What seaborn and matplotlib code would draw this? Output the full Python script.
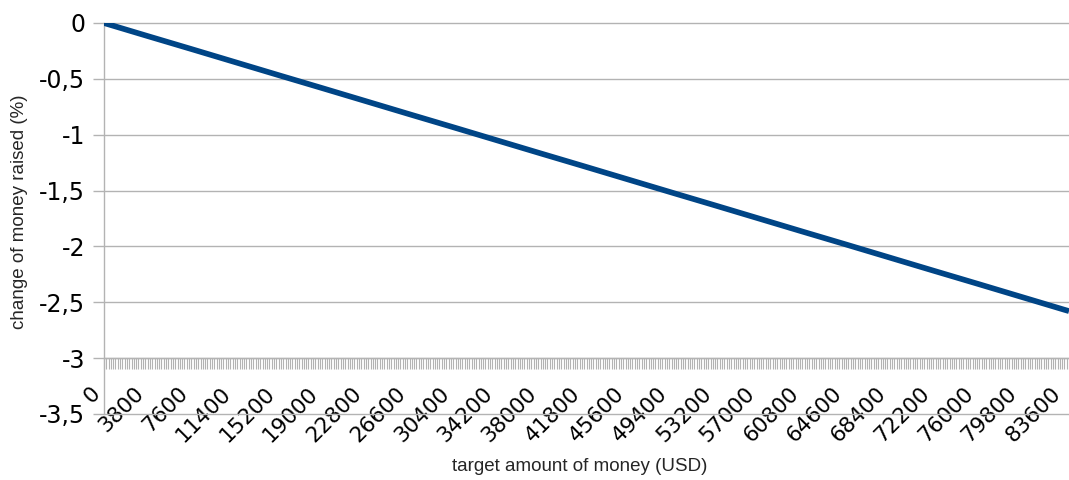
import numpy as np
import pandas as pd
import matplotlib
matplotlib.use("Agg")
import matplotlib.pyplot as plt
from matplotlib.ticker import FixedLocator
import seaborn as sns

# ---- data ----
target_usd = [0, 3800, 7600, 11400, 15200, 19000, 22800, 26600, 30400, 34200,
              38000, 41800, 45600, 49400, 53200, 57000, 60800, 64600, 68400,
              72200, 76000, 79800, 83600, 84000]
change_pct = [0.0, -0.117, -0.233, -0.350, -0.467, -0.583, -0.700, -0.817,
              -0.933, -1.050, -1.167, -1.283, -1.400, -1.517, -1.633, -1.750,
              -1.867, -1.983, -2.100, -2.217, -2.333, -2.450, -2.567, -2.579]
x_tick_values = [0, 3800, 7600, 11400, 15200, 19000, 22800, 26600, 30400, 34200,
                 38000, 41800, 45600, 49400, 53200, 57000, 60800, 64600, 68400,
                 72200, 76000, 79800, 83600]
x_tick_labels = [str(v) for v in x_tick_values]
y_tick_values = [0, -0.5, -1, -1.5, -2, -2.5, -3, -3.5]
y_tick_labels = ["0", "-0,5", "-1", "-1,5", "-2", "-2,5", "-3", "-3,5"]
x_label = "target amount of money (USD)"
y_label = "change of money raised (%)"

sns.set_style("white")
plt.rcParams["font.family"] = ["Liberation Sans", "DejaVu Sans"]

W, H = 1069, 480
fig = plt.figure(figsize=(W / 100, H / 100), dpi=100)
left, right, top, bottom = 104, 1069, 23, 414
ax = fig.add_axes([left / W, 1 - bottom / H, (right - left) / W, (bottom - top) / H])

grid_c = "#b3b3b3"
df = pd.DataFrame({"x": target_usd, "y": change_pct})
sns.lineplot(data=df, x="x", y="y", ax=ax, color="#004586", linewidth=4.1,
             solid_capstyle="butt", zorder=5)

ax.set_xlim(0, 84000)
ax.set_ylim(-3.5, 0)

# horizontal gridlines
for yv in y_tick_values:
    ax.axhline(yv, color=grid_c, lw=1.0, zorder=1, clip_on=False)

for s in ["top", "right"]:
    ax.spines[s].set_visible(False)
ax.spines["left"].set_color(grid_c)
ax.spines["left"].set_linewidth(1.0)
ax.spines["bottom"].set_position(("data", -3))
ax.spines["bottom"].set_color(grid_c)
ax.spines["bottom"].set_linewidth(1.0)

ax.set_yticks(y_tick_values)
ax.set_yticklabels(y_tick_labels, fontfamily=["DejaVu Sans"])
ax.tick_params(axis="y", left=True, direction="out", length=8, width=1.0,
               color=grid_c, pad=5.5, labelsize=17, labelcolor="black")

ax.xaxis.set_major_locator(FixedLocator(x_tick_values))
ax.set_xticklabels(x_tick_labels, rotation=45, ha="right", va="top",
                   fontfamily=["DejaVu Sans"])
ax.xaxis.set_minor_locator(FixedLocator(np.arange(0, 84001, 200)))
ax.tick_params(axis="x", which="major", bottom=True, direction="out", length=8,
               width=0.8, color=grid_c, pad=10, labelsize=15.5, labelcolor="black")
ax.tick_params(axis="x", which="minor", bottom=True, direction="out", length=8,
               width=0.8, color=grid_c)

ax.set_xlabel(x_label, fontsize=13.5)
ax.set_ylabel(y_label, fontsize=13.5)
ax.xaxis.set_label_coords((580 - left) / (right - left), (bottom - 466) / (bottom - top))
ax.xaxis.label.set_va("center")
ax.yaxis.set_label_coords((20 - left) / (right - left), (bottom - 212) / (bottom - top))
ax.yaxis.label.set_va("center")

fig.savefig("out.png", dpi=100, facecolor="white")
